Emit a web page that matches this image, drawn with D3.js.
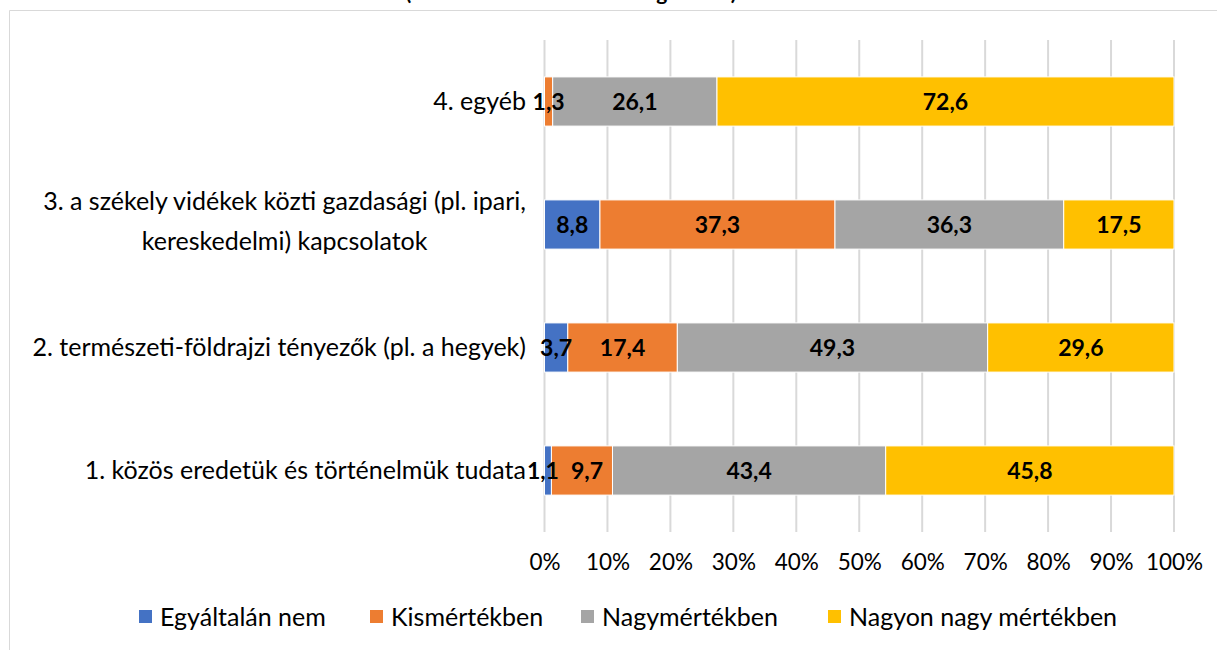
<!DOCTYPE html>
<html><head><meta charset="utf-8">
<script src="https://cdn.jsdelivr.net/npm/d3@7"></script>
<style>body{margin:0;background:#fff}svg{display:block}text{font-family:Lato,"Open Sans",sans-serif}</style>
</head><body>
<svg id="c" width="1217" height="650"></svg>
<script>
const categories = [
  ["1. közös eredetük és történelmük tudata"],
  ["2. természeti-földrajzi tényezők (pl. a hegyek)"],
  ["3. a székely vidékek közti gazdasági (pl. ipari,", "kereskedelmi) kapcsolatok"],
  ["4. egyéb"]
];
const seriesNames = ["Egyáltalán nem", "Kismértékben", "Nagymértékben", "Nagyon nagy mértékben"];
const egyaltalan = [1.1, 3.7, 8.8, 0];
const kis = [9.7, 17.4, 37.3, 1.3];
const nagy = [43.4, 49.3, 36.3, 26.1];
const nagyonNagy = [45.8, 29.6, 17.5, 72.6];
const colors = ["#4472C4", "#ED7D31", "#A5A5A5", "#FFC000"];
const tickValues = [0,10,20,30,40,50,60,70,80,90,100];
const titleText = "(a válaszadók százalékos megoszlása)";

const series = [egyaltalan, kis, nagy, nagyonNagy];
const svg = d3.select("#c");
const FS = 25;

// frame
svg.append("path").attr("d","M9.5,650 V10.5 H1217").attr("fill","none").attr("stroke","#d9d9d9").attr("stroke-width",1);

// title (mostly cut off at the top, as in the reference)
svg.append("text").attr("x",571).attr("y",0).attr("text-anchor","middle")
  .attr("font-size",21).attr("font-weight","bold").attr("textLength",331).text(titleText);

const x = d3.scaleLinear().domain([0,100]).range([544.5,1174]);
const y = d3.scaleBand().domain(d3.range(categories.length).reverse()).range([40,532]).paddingInner(0.6).paddingOuter(0.3);

// grid
svg.append("g").selectAll("line").data(tickValues).join("line")
  .attr("x1",d=>x(d)).attr("x2",d=>x(d)).attr("y1",40).attr("y2",532)
  .attr("stroke","#d9d9d9").attr("stroke-width",2);

// x axis labels
const ax = svg.append("g").attr("transform","translate(0,548)")
  .call(d3.axisBottom(x).tickValues(tickValues).tickFormat(d=>d+"%").tickSize(0).tickPadding(6));
ax.select(".domain").remove();
ax.selectAll("text").attr("font-size",22.5).attr("fill","#000").attr("font-family","Lato,'Open Sans',sans-serif");

// stacking
const rows = categories.map((c,i)=>{
  const vals = series.map(s=>s[i]);
  const tot = d3.sum(vals);
  let acc = 0;
  return vals.map((v,j)=>{ const a=acc; acc+=v/tot*100; return {i,j,v,x0:a,x1:acc}; });
});
const segs = rows.flat();

svg.append("g").selectAll("rect").data(segs.filter(d=>d.v>0)).join("rect")
  .attr("x",d=>x(d.x0)).attr("width",d=>x(d.x1)-x(d.x0))
  .attr("y",d=>y(d.i)).attr("height",y.bandwidth())
  .attr("fill",d=>colors[d.j]).attr("stroke","#fff").attr("stroke-width",1);

const lbl = svg.append("g").selectAll("text").data(segs.filter(d=>d.v>0)).join("text")
  .attr("x",d=>(x(d.x0)+x(d.x1))/2).attr("y",d=>y(d.i)+y.bandwidth()/2)
  .attr("dy","0.36em").attr("text-anchor","middle").attr("font-size",23).attr("font-weight","bold")
  .text(d=>d.v.toFixed(1).replace(".",","));

// simple overlap avoidance between neighbouring labels in a row
const gap = 12;
d3.groups(lbl.nodes(), n=>d3.select(n).datum().i).forEach(([i,nodes])=>{
  for (let k=1;k<nodes.length;k++){
    const a = nodes[k-1], b = nodes[k];
    const ba = a.getBBox(), bb = b.getBBox();
    const overlap = (ba.x+ba.width+gap) - bb.x;
    if (overlap>0){
      d3.select(a).attr("x", +d3.select(a).attr("x") - overlap/2);
      d3.select(b).attr("x", +d3.select(b).attr("x") + overlap/2);
    }
  }
});

// category labels
const cl = svg.append("g").selectAll("text").data(categories).join("text")
  .attr("font-size",FS).attr("fill","#000").attr("text-anchor","middle");
cl.each(function(lines,i){
  const t = d3.select(this);
  const cy = y(i)+y.bandwidth()/2 - (lines.length>1?3:0);
  const lh = 40;
  lines.forEach((ln,k)=>{
    t.append("tspan").attr("x",0).attr("y",cy + (k-(lines.length-1)/2)*lh).attr("dy","0.35em").text(ln);
  });
});
// right-align blocks
cl.each(function(){
  const b = this.getBBox();
  const dx = 526 - (b.x + b.width);
  d3.select(this).attr("transform",`translate(${dx},0)`);
});

// legend
const legX = [139, 370, 581, 828];
const lg = svg.append("g").selectAll("g").data(seriesNames).join("g")
  .attr("transform",(d,i)=>`translate(${legX[i]},617)`);
lg.append("rect").attr("x",0).attr("y",-7).attr("width",13).attr("height",13).attr("fill",(d,i)=>colors[i]);
lg.append("text").attr("x",21).attr("dy","0.35em").attr("font-size",FS).text(d=>d);
</script>
</body></html>
